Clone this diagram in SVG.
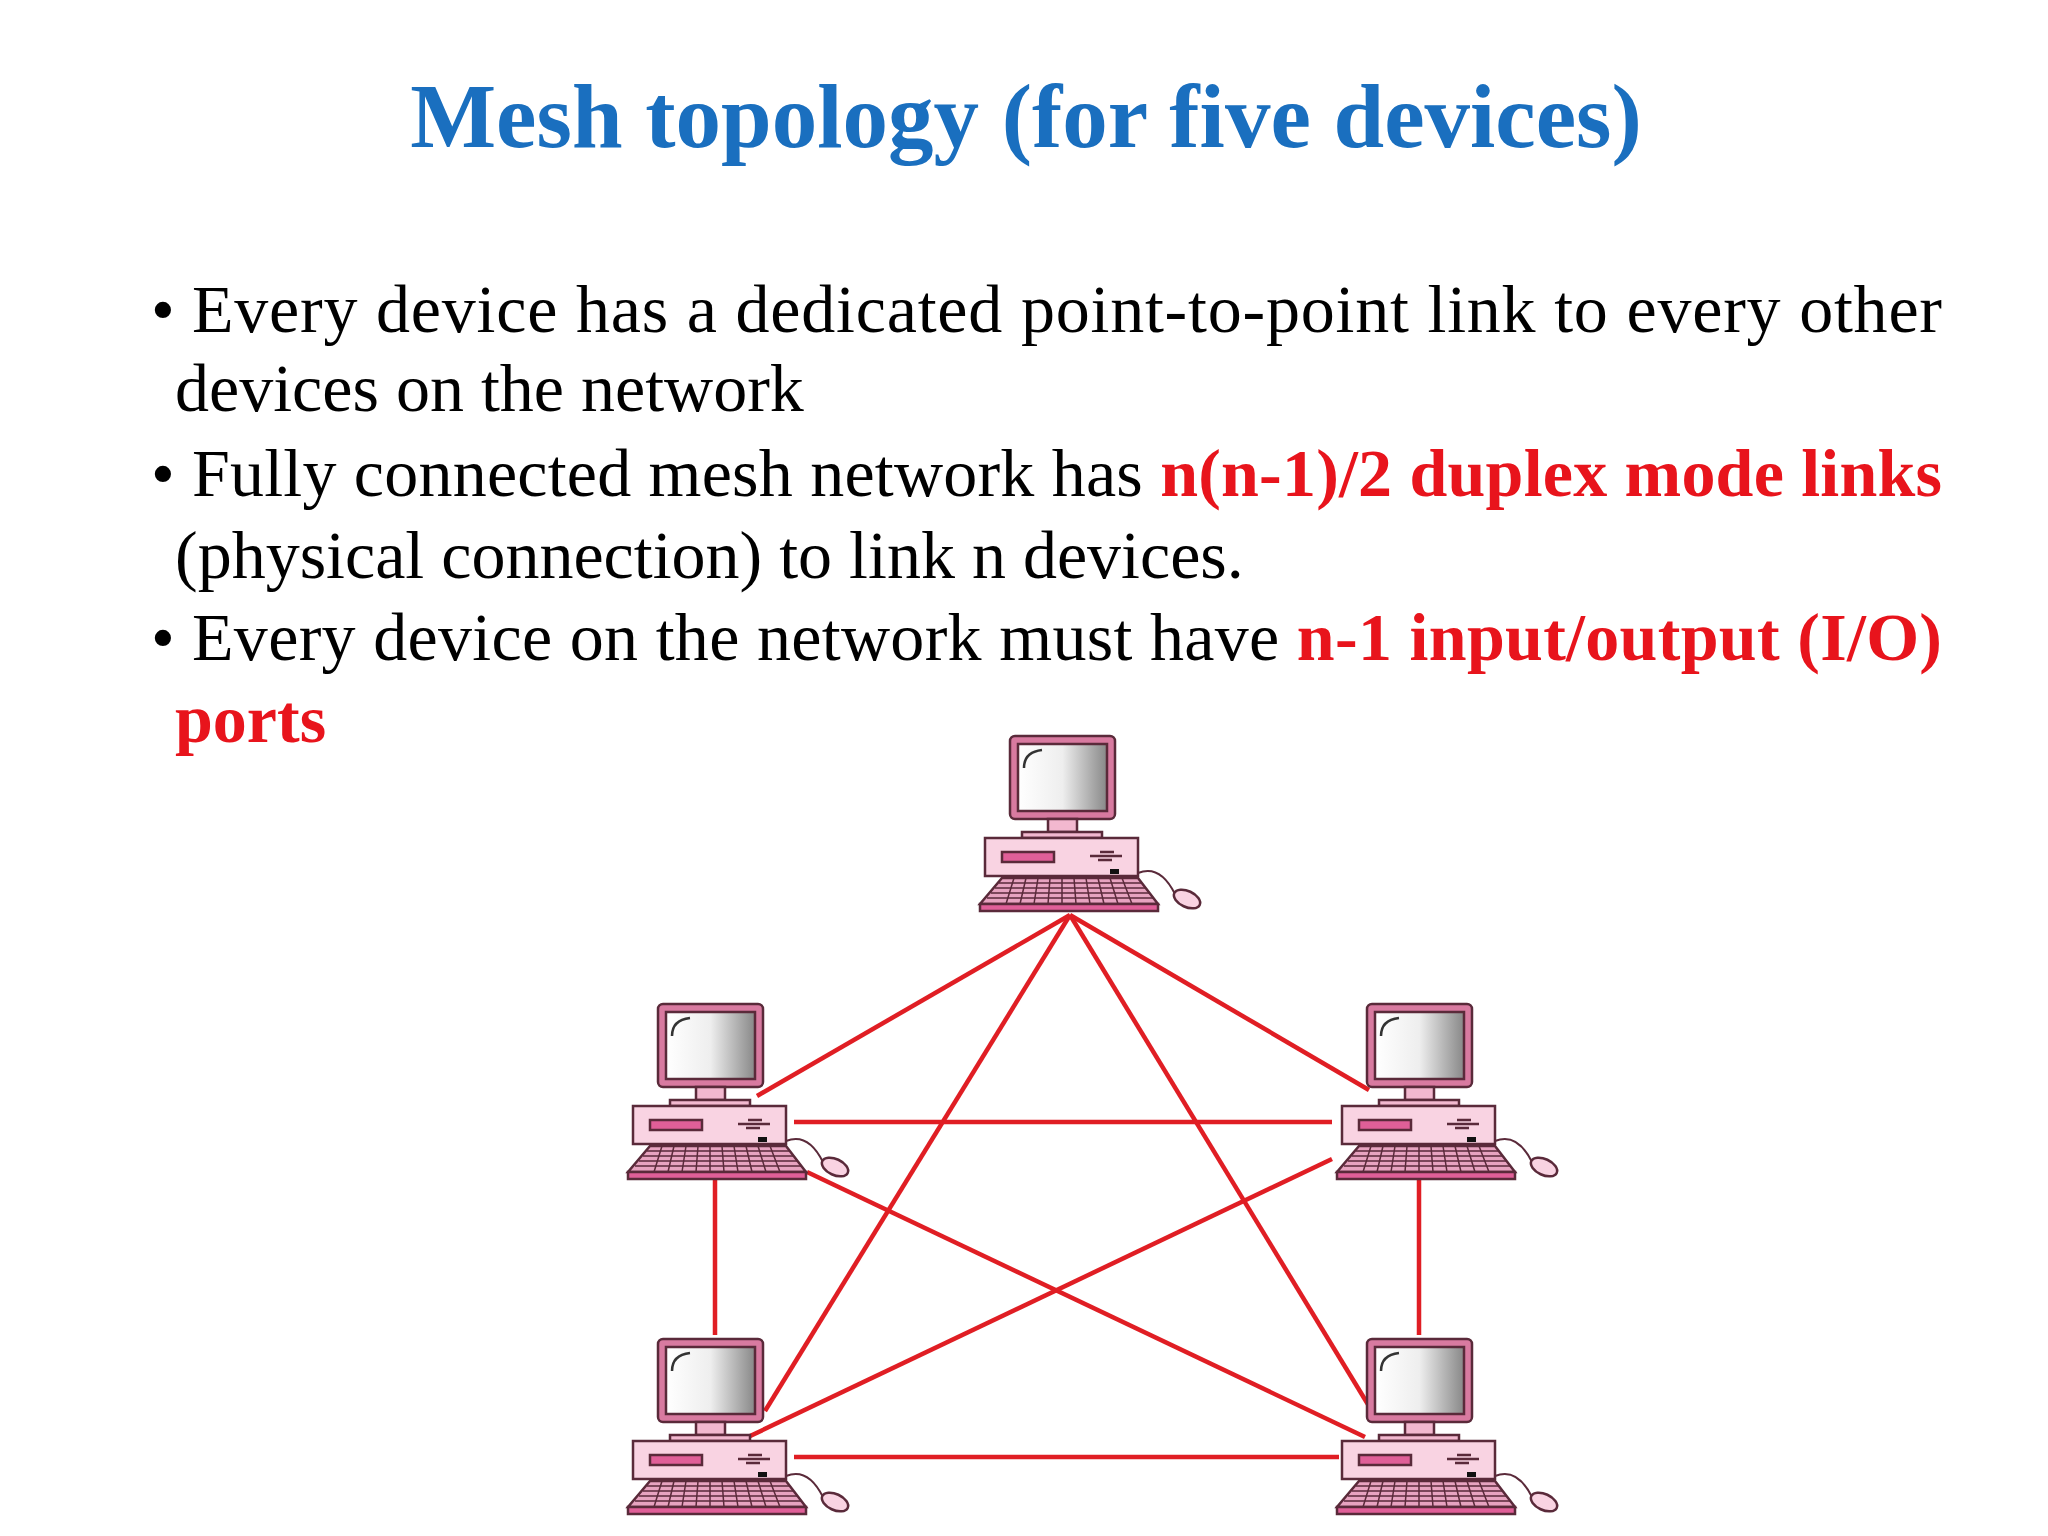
<svg xmlns="http://www.w3.org/2000/svg" width="2048" height="1536" viewBox="0 0 2048 1536">
<style>
.t{font-family:"Liberation Serif",serif;font-size:68px;fill:#000}
.r{fill:#e8141c;font-weight:bold}
.ln{stroke:#e01e24;stroke-width:4.5;fill:none}
.o{stroke:#5a2a3a;stroke-width:2.5}
</style>
<defs>
<linearGradient id="scr" x1="0" x2="1" y1="0" y2="0"><stop offset="0" stop-color="#fff"/><stop offset="0.5" stop-color="#eee"/><stop offset="1" stop-color="#888"/></linearGradient>
<g id="pc">
<rect x="0" y="0" width="105" height="83" rx="5" fill="#d87aa0" class="o"/>
<rect x="8" y="8" width="89" height="67" fill="url(#scr)" class="o"/>
<path d="M14 32 Q14 16 32 14" stroke="#333" stroke-width="2.5" fill="none"/>
<rect x="38" y="83" width="29" height="13" fill="#f2b8cf" class="o"/>
<rect x="12" y="96" width="80" height="6" fill="#f2b8cf" class="o"/>
<rect x="-25" y="102" width="153" height="38" fill="#f9d3e2" class="o"/>
<rect x="-8" y="116" width="52" height="10" fill="#e05f98" class="o"/>
<path d="M80 120 H112 M90 116 H104 M88 124 H102" stroke="#5a2a3a" stroke-width="2.5"/>
<rect x="100" y="133" width="9" height="5" fill="#111"/>
<polygon points="-8,142 128,142 148,168 -30,168" fill="#e7a3c0" class="o"/>
<path d="M-11,147 H131 M-15,152 H135 M-19,157 H139 M-23,162 H143" stroke="#5a2a3a" stroke-width="1.5"/>
<path d="M4,142 L-4,168 M16,142 L10,168 M28,142 L24,168 M40,142 L38,168 M52,142 L52,168 M64,142 L66,168 M76,142 L80,168 M88,142 L94,168 M100,142 L108,168 M112,142 L122,168" stroke="#5a2a3a" stroke-width="1.5"/>
<rect x="-30" y="168" width="178" height="7" fill="#e05f98" class="o"/>
<path d="M128 137 Q150 128 165 158" stroke="#5a2a3a" stroke-width="2" fill="none"/>
<ellipse cx="177" cy="163" rx="14" ry="8" transform="rotate(25 177 163)" fill="#f9d3e2" class="o"/>
</g>
</defs>
<text x="1026" y="147" text-anchor="middle" font-family="Liberation Serif,serif" font-weight="bold" font-size="91" fill="#1a6fbf">Mesh topology (for five devices)</text>
<g id="text">
<text class="t" x="151" y="332">•</text>
<text class="t" x="192" y="332" textLength="1750" lengthAdjust="spacing">Every device has a dedicated point-to-point link to every other</text>
<text class="t" x="175" y="411">devices on the network</text>
<text class="t" x="151" y="496">•</text>
<text class="t" x="192" y="496" textLength="1750" lengthAdjust="spacing">Fully connected mesh network has <tspan class="r">n(n-1)/2 duplex mode links</tspan></text>
<text class="t" x="175" y="578">(physical connection) to link n devices.</text>
<text class="t" x="151" y="660">•</text>
<text class="t" x="192" y="660" textLength="1750" lengthAdjust="spacing">Every device on the network must have <tspan class="r">n-1 input/output (I/O)</tspan></text>
<text class="t r" x="175" y="742">ports</text>
</g>
<g id="connectors">
<line class="ln" x1="1070" y1="915" x2="757" y2="1096"/>
<line class="ln" x1="1070" y1="915" x2="1369" y2="1090"/>
<line class="ln" x1="1070" y1="915" x2="765" y2="1411"/>
<line class="ln" x1="1070" y1="915" x2="1372" y2="1411"/>
<line class="ln" x1="794" y1="1122" x2="1332" y2="1122"/>
<line class="ln" x1="715" y1="1178" x2="715" y2="1335"/>
<line class="ln" x1="1419" y1="1178" x2="1419" y2="1335"/>
<line class="ln" x1="807" y1="1172" x2="1365" y2="1437"/>
<line class="ln" x1="1332" y1="1159" x2="748" y2="1437"/>
<line class="ln" x1="794" y1="1457" x2="1339" y2="1457"/>
</g>
<g id="pc-top"><use href="#pc" transform="translate(1010,736)"/></g>
<g id="pc-left"><use href="#pc" transform="translate(658,1004)"/></g>
<g id="pc-right"><use href="#pc" transform="translate(1367,1004)"/></g>
<g id="pc-bl"><use href="#pc" transform="translate(658,1339)"/></g>
<g id="pc-br"><use href="#pc" transform="translate(1367,1339)"/></g>
</svg>
